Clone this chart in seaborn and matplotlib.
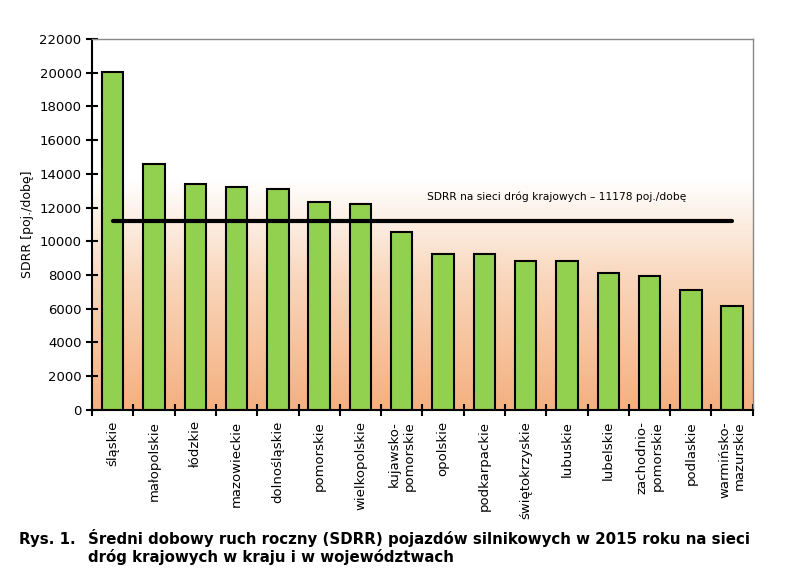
import numpy as np
import pandas as pd
import seaborn as sns
import matplotlib.pyplot as plt
from matplotlib.colors import LinearSegmentedColormap

# SDRR 2015 per voivodeship
wojewodztwa = ["śląskie", "małopolskie", "łódzkie", "mazowieckie", "dolnośląskie",
               "pomorskie", "wielkopolskie", "kujawsko-\npomorskie", "opolskie",
               "podkarpackie", "świętokrzyskie", "lubuskie", "lubelskie",
               "zachodnio-\npomorskie", "podlaskie", "warmińsko-\nmazurskie"]
sdrr = [20020, 14580, 13420, 13220, 13090, 12350, 12190, 10550, 9270,
        9230, 8850, 8830, 8100, 7970, 7100, 6160]
sdrr_kraj = 11178

df = pd.DataFrame({"woj": wojewodztwa, "sdrr": sdrr})

sns.set_style("ticks")
plt.rcParams['font.family'] = ['DejaVu Sans']
for k in ["text.color", "axes.labelcolor", "xtick.color", "ytick.color"]:
    plt.rcParams[k] = "black"

fig = plt.figure(figsize=(8, 5.83), dpi=100)
ax = fig.add_axes([0.115, 0.297, 0.826, 0.636])

# background gradient white -> orange
cmap = LinearSegmentedColormap.from_list("bg", [(0, "#f4b080"), (0.35, "#f9d6bb"), (0.62, "#ffffff"), (1, "#ffffff")])
grad = np.linspace(0, 1, 256).reshape(-1, 1)
ax.imshow(grad, aspect="auto", cmap=cmap, origin="lower",
          extent=[-0.5, len(sdrr) - 0.5, 0, 22000], zorder=0)

sns.barplot(data=df, x="woj", y="sdrr", color="#92d050", saturation=1,
            width=0.52, edgecolor="black", linewidth=1.5, ax=ax, zorder=2)

ax.plot([0, len(sdrr) - 1], [sdrr_kraj, sdrr_kraj], color="black", lw=3, zorder=3)
ax.text(10.76, 12650, "SDRR na sieci dróg krajowych – 11178 poj./dobę",
        ha="center", va="center", fontsize=7.7)

ax.set_xlim(-0.5, len(sdrr) - 0.5)
ax.set_ylim(0, 22000)
ax.set_yticks(range(0, 22001, 2000))
ax.set_ylabel("SDRR [poj./dobę]", fontsize=9)
ax.set_xlabel("")

ax.set_xticks(np.arange(len(sdrr)))
ax.set_xticklabels(wojewodztwa, rotation=90, fontsize=9.5, va="top",
                   ha="center", multialignment="right")
ax.set_xticks(np.arange(-0.5, len(sdrr), 1), minor=True)
ax.tick_params(axis="x", which="major", length=0, pad=8)
ax.tick_params(axis="x", which="minor", length=8, width=1.5, direction="inout")
ax.tick_params(axis="y", length=8, width=1.5, direction="inout", labelsize=9.5)

for s in ["left", "bottom"]:
    ax.spines[s].set_linewidth(1.5)
    ax.spines[s].set_color("black")
for s in ["top", "right"]:
    ax.spines[s].set_linewidth(1)
    ax.spines[s].set_color("#888888")

# caption
fig.text(0.024, 0.0669, "Rys. 1.", fontsize=10.8, fontweight="bold", va="baseline")
fig.text(0.11, 0.0669, "Średni dobowy ruch roczny (SDRR) pojazdów silnikowych w 2015 roku na sieci",
         fontsize=10.8, fontweight="bold", va="baseline")
fig.text(0.11, 0.036, "dróg krajowych w kraju i w województwach",
         fontsize=10.8, fontweight="bold", va="baseline")

fig.savefig("out.png", dpi=100)
